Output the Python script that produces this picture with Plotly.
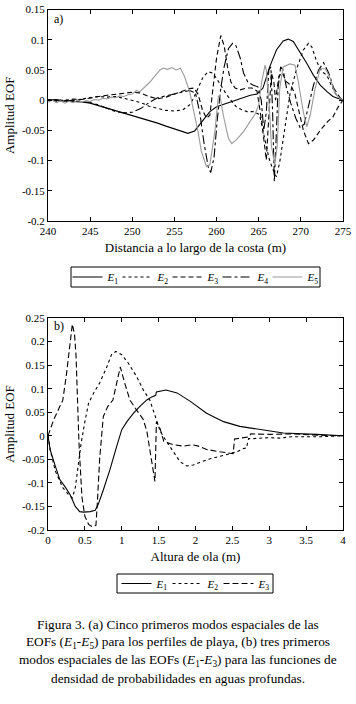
import plotly.graph_objects as go

# ---------------- Panel (a): EOF modes along the coast ----------------
a_e1_x = [240, 242, 244, 245, 246, 247, 248, 249, 250, 251, 252, 253, 254, 255, 256, 256.6, 257.4, 258.4, 259.2, 260,
          261.2, 262.8, 264, 264.8, 265.5, 266.3, 267.1, 267.9, 268.5, 269.1, 269.9, 270.7, 271.5, 272.3, 273.1,
          273.8, 274.6, 275]
a_e1_y = [0, -0.001, -0.003, -0.005, -0.009, -0.013, -0.017, -0.022, -0.026, -0.029, -0.033, -0.038, -0.043, -0.048,
          -0.053, -0.055, -0.051, -0.034, -0.019, -0.011, -0.005, 0.003, 0.008, 0.01, 0.02, 0.055, 0.083, 0.098, 0.101,
          0.097, 0.08, 0.061, 0.041, 0.025, 0.014, 0.006, 0.002, 0]

a_e2_x = [240, 241, 242, 243, 244, 245, 246, 247, 248, 249, 250, 251, 252, 253, 254, 255, 256, 256.8, 257.3, 257.8,
          258.4, 259, 259.5, 260, 260.6, 261.2, 261.8, 262.4, 263, 263.6, 264.4, 265.1, 265.7, 266.2, 266.6, 267.1,
          267.5, 268.1, 268.7, 269.5, 270.3, 270.9, 271.3, 271.9, 272.5, 273.1, 273.6, 274.2, 275]
a_e2_y = [0, -0.002, 0.001, -0.002, 0.002, 0.004, 0.006, 0.005, 0.006, 0.003, 0.0, -0.004, -0.01, -0.014, -0.017,
          -0.018, -0.016, -0.008, 0.004, 0.02, 0.038, 0.047, 0.045, 0.036, 0.022, 0.009, -0.002, -0.012, -0.016,
          -0.019, -0.019, -0.024, -0.063, -0.095, -0.112, -0.127, -0.102, -0.047, 0.009, 0.052, 0.083, 0.094, 0.088,
          0.063, 0.047, 0.041, 0.025, 0.009, 0]

a_e3_x = [240, 241, 242, 243, 244, 245, 246, 247, 248, 249, 250, 250.9, 252, 253, 254, 255, 256, 256.8, 257.3, 257.8,
          258.3, 258.8, 259.2, 259.6, 260.0, 260.5, 260.9, 261.3, 261.7, 262.2, 262.8, 263.5, 264.2, 264.8, 265.35,
          265.9, 266.2, 266.5, 266.8, 267.0, 267.4, 267.8, 268.3, 268.8, 269.3, 269.8, 270.3, 270.9, 271.5, 272.3,
          273.2, 273.8, 274.4, 275]
a_e3_y = [0, 0.001, -0.001, 0.002, 0.001, 0.004, 0.006, 0.008, 0.01, 0.012, 0.013, 0.012, 0.006, 0.002, 0.005, 0.01,
          0.015, 0.019, 0.02, 0.01, -0.015, -0.03, -0.025, 0.02, 0.07, 0.107, 0.09, 0.055, 0.03, 0.02, 0.017, 0.02,
          0.02, 0.015, -0.035, -0.099, -0.02, 0.045, 0.03, 0.0, 0.04, 0.045, 0.03, 0.025, 0.01, -0.02, -0.05, -0.072,
          -0.066, -0.05, -0.035, -0.028, -0.012, 0]

a_e4_x = [240, 241, 242, 243, 244, 245, 246, 247, 248, 249, 250, 251, 252, 253, 254, 255, 256, 256.8, 257.5, 258.0,
          258.5, 259.0, 259.3, 259.7, 260.1, 260.5, 260.9, 261.4, 261.9, 262.3, 262.8, 263.2, 263.7, 264.3, 264.9,
          265.3, 265.6, 265.9, 266.2, 266.45, 266.65, 266.85, 267.05, 267.3, 267.6, 267.9, 268.3, 268.8, 269.4, 269.9,
          270.4, 270.9, 271.5, 272.1, 272.7, 273.3, 273.9, 274.5, 275]
a_e4_y = [0, 0.001, -0.002, 0.0, -0.002, -0.004, -0.008, -0.014, -0.019, -0.021, -0.02, -0.014, -0.004, 0.004, 0.007,
          0.01, 0.014, 0.016, 0.012, -0.02, -0.07, -0.11, -0.12, -0.095, -0.03, 0.02, 0.055, 0.085, 0.094, 0.09, 0.07,
          0.045, 0.03, 0.025, 0.022, 0.0, -0.05, -0.02, 0.05, 0.055, -0.02, -0.135, -0.07, 0.02, 0.055, 0.05, 0.02,
          -0.005, -0.03, -0.045, -0.04, -0.01, 0.025, 0.05, 0.062, 0.045, 0.02, 0.007, 0]

a_e5_x = [240, 240.5, 241, 241.5, 242, 242.5, 243, 243.5, 244, 244.5, 245, 245.5, 246, 246.5, 247, 247.5, 248, 248.5,
          249, 249.5, 250, 250.5, 250.9, 251.5, 252.1, 252.7, 253.3, 253.7, 254.2, 254.7, 255.2, 255.7, 256.2, 256.8,
          257.4, 257.8, 258.2, 258.8, 259.2, 259.8, 260.2, 260.4, 260.8, 261.4, 261.8, 262.4, 263.2, 264, 264.6, 265,
          265.35, 265.75, 265.9, 266.3, 266.5, 266.9, 267.2, 267.5, 267.9, 268.7, 269.3, 269.7, 270.3, 270.7, 271.1,
          271.7, 272.3, 272.9, 273.5, 274.0, 274.6, 275]
a_e5_y = [-0.003, 0.0, -0.004, -0.001, -0.005, -0.002, -0.004, 0.0, -0.003, -0.001, -0.002, 0.001, 0.0, 0.003, 0.002,
          0.005, 0.004, 0.007, 0.006, 0.009, 0.01, 0.016, 0.014, 0.022, 0.03, 0.04, 0.05, 0.053, 0.051, 0.054, 0.05,
          0.053, 0.039, 0.014, -0.025, -0.052, -0.085, -0.11, -0.107, -0.052, 0.006, 0.008, -0.025, -0.063, -0.072,
          -0.065, -0.052, -0.035, -0.022, -0.008, 0.03, 0.058, 0.05, -0.02, -0.075, -0.107, -0.075, 0.02, 0.055, 0.06,
          0.058, 0.03, -0.02, -0.044, -0.025, 0.02, 0.052, 0.052, 0.036, 0.012, 0.003, 0.0]

# ---------------- Panel (b): EOF modes of wave-height pdf ----------------
b_e1_x = [0, 0.03, 0.1, 0.16, 0.23, 0.3, 0.37, 0.43, 0.48, 0.57, 0.64, 0.68, 0.75, 0.84, 0.93, 1.0, 1.07, 1.16, 1.25,
          1.34, 1.40, 1.46, 1.47, 1.52, 1.6, 1.75, 1.93, 2.15, 2.38, 2.6, 2.87, 3.19, 3.64, 4.0]
b_e1_y = [0, -0.03, -0.065, -0.093, -0.108, -0.125, -0.15, -0.161, -0.162, -0.161, -0.158, -0.146, -0.115, -0.072,
          -0.023, 0.013, 0.03, 0.048, 0.063, 0.076, 0.082, 0.086, 0.093, 0.094, 0.097, 0.091, 0.073, 0.048, 0.03, 0.02,
          0.013, 0.006, 0.003, 0.0]

b_e2_x = [0, 0.03, 0.1, 0.2, 0.28, 0.33, 0.37, 0.41, 0.45, 0.5, 0.55, 0.62, 0.7, 0.8, 0.86, 0.92, 1.0, 1.09, 1.2, 1.29,
          1.38, 1.47, 1.52, 1.59, 1.68, 1.79, 1.88, 1.97, 2.15, 2.33, 2.49, 2.56, 2.65, 2.69, 2.72, 2.78, 3.0, 3.15,
          3.3, 3.7, 4.0]
b_e2_y = [0, -0.03, -0.075, -0.11, -0.125, -0.132, -0.11, -0.06, -0.015, 0.03, 0.069, 0.091, 0.112, 0.147, 0.172,
          0.179, 0.172, 0.154, 0.126, 0.098, 0.076, 0.034, 0.01, -0.008, -0.03, -0.055, -0.064, -0.062, -0.051, -0.044,
          -0.037, -0.034, -0.027, -0.026, -0.006, -0.006, -0.004, -0.005, -0.002, -0.002, 0]

b_e3_x = [0, 0.08, 0.16, 0.2, 0.25, 0.29, 0.33, 0.36, 0.38, 0.42, 0.46, 0.5, 0.55, 0.6, 0.65, 0.67, 0.7, 0.75, 0.81,
          0.88, 0.93, 0.98, 1.04, 1.11, 1.2, 1.29, 1.34, 1.4, 1.45, 1.47, 1.52, 1.57, 1.7, 1.84, 1.95, 2.04, 2.15, 2.33,
          2.46, 2.51, 2.53, 2.6, 2.73, 2.75, 3.0, 3.3, 3.5, 3.7, 4.0]
b_e3_y = [0, 0.035, 0.062, 0.075, 0.13, 0.19, 0.237, 0.215, 0.17, -0.016, -0.13, -0.171, -0.188, -0.193, -0.19,
          -0.14, -0.05, 0.041, 0.062, 0.076, 0.112, 0.146, 0.112, 0.076, 0.055, 0.035, 0.01, -0.05, -0.097, 0.03,
          0.015, -0.012, -0.019, -0.022, -0.019, -0.022, -0.029, -0.034, -0.036, -0.038, -0.007, -0.005, -0.002,
          0.004, 0.003, 0.004, 0.002, 0.001, 0]

# ---------------- Tick labels ----------------
a_xticks = [240, 245, 250, 255, 260, 265, 270, 275]
a_yticks = [0.15, 0.1, 0.05, 0, -0.05, -0.1, -0.15, -0.2]
a_ytext = ["0.15", "0.1", "0.05", "0", "-0.05", "-0.1", "-0.15", "-0.2"]
b_xticks = [0, 0.5, 1, 1.5, 2, 2.5, 3, 3.5, 4]
b_xtext = ["0", "0.5", "1", "1.5", "2", "2.5", "3", "3.5", "4"]
b_yticks = [0.25, 0.2, 0.15, 0.1, 0.05, 0, -0.05, -0.1, -0.15, -0.2]
b_ytext = ["0.25", "0.2", "0.15", "0.1", "0.05", "0", "-0.05", "-0.1", "-0.15", "-0.2"]

names = ["<i>E</i><sub>1</sub>", "<i>E</i><sub>2</sub>", "<i>E</i><sub>3</sub>",
         "<i>E</i><sub>4</sub>", "<i>E</i><sub>5</sub>"]

caption = [
    "Figura 3. (a) Cinco primeros modos espaciales de las",
    "EOFs (<i>E</i><sub>1</sub>-<i>E</i><sub>5</sub>) para los perfiles de playa, (b) tres primeros",
    "modos espaciales de las EOFs (<i>E</i><sub>1</sub>-<i>E</i><sub>3</sub>) para las funciones de",
    "densidad de probabilidades en aguas profundas.",
]

FONT = "Liberation Serif"
W, H = 356, 704

fig = go.Figure()

a_styles = [("black", "solid"), ("black", "dot"), ("black", "5px,3px"), ("black", "dashdot"), ("#9a9a9a", "solid")]
a_data = [(a_e1_x, a_e1_y), (a_e2_x, a_e2_y), (a_e3_x, a_e3_y), (a_e4_x, a_e4_y), (a_e5_x, a_e5_y)]
for (xs, ys), (c, d), n in zip(a_data, a_styles, names):
    fig.add_trace(go.Scatter(x=xs, y=ys, mode="lines", name=n, line=dict(color=c, dash=d, width=1.1),
                             xaxis="x", yaxis="y", legend="legend"))
# invisible spacer entry so the last legend label is not clipped
fig.add_trace(go.Scatter(x=[None], y=[None], mode="lines", name=" ", hoverinfo="skip",
                         line=dict(width=0, color="rgba(0,0,0,0)"), xaxis="x", yaxis="y", legend="legend"))

b_styles = [("black", "solid"), ("black", "dot"), ("black", "6px,3px")]
b_data = [(b_e1_x, b_e1_y), (b_e2_x, b_e2_y), (b_e3_x, b_e3_y)]
for (xs, ys), (c, d), n in zip(b_data, b_styles, names[:3]):
    fig.add_trace(go.Scatter(x=xs, y=ys, mode="lines", name=n, line=dict(color=c, dash=d, width=1.1),
                             xaxis="x2", yaxis="y2", legend="legend2"))
fig.add_trace(go.Scatter(x=[None], y=[None], mode="lines", name=" ", hoverinfo="skip",
                         line=dict(width=0, color="rgba(0,0,0,0)"), xaxis="x2", yaxis="y2", legend="legend2"))


def px_y(y):
    return (H - y) / H


xdom = [48 / W, 343 / W]
axis_common = dict(showline=True, linecolor="black", linewidth=1, mirror="ticks", ticks="inside", ticklen=4,
                   tickcolor="black", showgrid=False, zeroline=False, automargin=False,
                   ticklabeloverflow="allow",
                   tickfont=dict(family=FONT, size=11, color="black"))

fig.update_layout(
    width=W, height=H, margin=dict(l=0, r=0, t=0, b=0, autoexpand=False),
    paper_bgcolor="white", plot_bgcolor="white",
    font=dict(family=FONT, color="black", size=12),
    xaxis=dict(domain=xdom, range=[240, 275], tickvals=a_xticks, anchor="y",
               title=dict(text="Distancia a lo largo de la costa (m)", font=dict(family=FONT, size=13), standoff=6),
               **axis_common),
    yaxis=dict(domain=[px_y(221), px_y(9.5)], range=[-0.2, 0.15], tickvals=a_yticks, ticktext=a_ytext, anchor="x",
               title=dict(text="Amplitud EOF", font=dict(family=FONT, size=13), standoff=4),
               **axis_common),
    xaxis2=dict(domain=xdom, range=[0, 4], tickvals=b_xticks, ticktext=b_xtext, anchor="y2",
                title=dict(text="Altura de ola (m)", font=dict(family=FONT, size=13), standoff=6),
                **axis_common),
    yaxis2=dict(domain=[px_y(530), px_y(318)], range=[-0.2, 0.25], tickvals=b_yticks, ticktext=b_ytext, anchor="x2",
                title=dict(text="Amplitud EOF", font=dict(family=FONT, size=13), standoff=4),
                **axis_common),
    legend=dict(x=217.5 / W, y=px_y(277), xanchor="center", yanchor="middle", orientation="h",
                borderwidth=0, bgcolor="rgba(0,0,0,0)", itemwidth=30,
                entrywidth=5, entrywidthmode="pixels",
                font=dict(family=FONT, size=11), tracegroupgap=0),
    legend2=dict(x=218.5 / W, y=px_y(583.5), xanchor="center", yanchor="middle", orientation="h",
                 borderwidth=0, bgcolor="rgba(0,0,0,0)", itemwidth=30,
                 entrywidth=6, entrywidthmode="pixels",
                 font=dict(family=FONT, size=11), tracegroupgap=0),
    showlegend=True,
    shapes=[
        dict(type="rect", xref="paper", yref="paper", x0=71 / W, x1=320 / W, y0=px_y(287), y1=px_y(267),
             line=dict(color="black", width=1), fillcolor="rgba(0,0,0,0)", layer="below"),
        dict(type="rect", xref="paper", yref="paper", x0=117 / W, x1=273 / W, y0=px_y(593), y1=px_y(574),
             line=dict(color="black", width=1), fillcolor="rgba(0,0,0,0)", layer="below"),
    ],
)

annotations = [
    dict(text="a)", x=52 / W, y=px_y(19), xref="paper", yref="paper", xanchor="left", yanchor="middle",
         showarrow=False, font=dict(family=FONT, size=12)),
    dict(text="b)", x=52 / W, y=px_y(326), xref="paper", yref="paper", xanchor="left", yanchor="middle",
         showarrow=False, font=dict(family=FONT, size=12)),
]
for i, line in enumerate(caption):
    annotations.append(dict(text=line, x=0.5, y=px_y(624 + 18 * i), xref="paper", yref="paper",
                            xanchor="center", yanchor="middle", showarrow=False,
                            font=dict(family=FONT, size=13.3)))
fig.update_layout(annotations=annotations)

fig.write_html("out.html", config={"displayModeBar": False},
               post_script="document.body.style.margin='0';document.body.style.padding='0';")
